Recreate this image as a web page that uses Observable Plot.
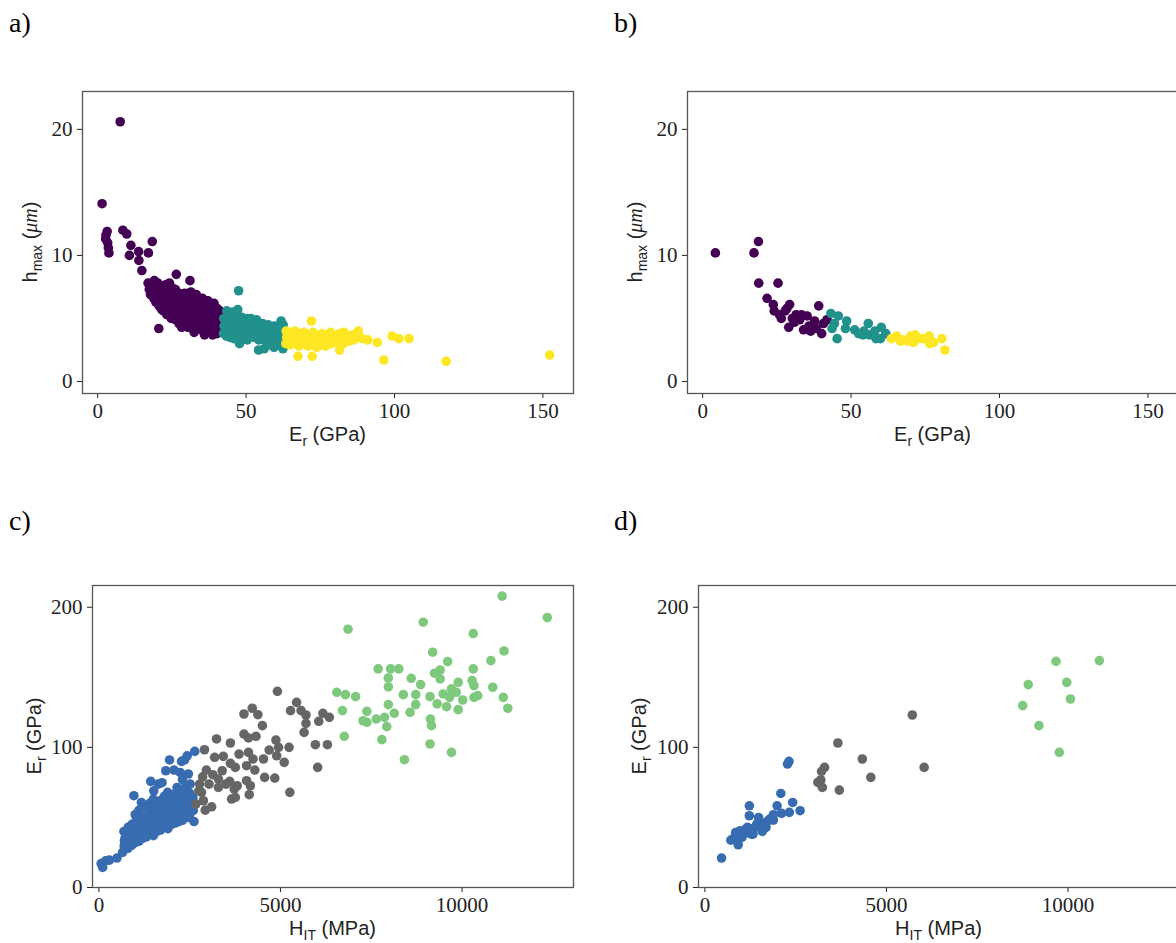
<!DOCTYPE html>
<html><head><meta charset="utf-8">
<script src="https://cdn.jsdelivr.net/npm/d3@7"></script>
<script src="https://cdn.jsdelivr.net/npm/@observablehq/plot@0.6"></script>
<style>
html,body{margin:0;padding:0;background:#fff;overflow:hidden;}
#root{position:relative;width:1176px;height:943px;overflow:hidden;background:#fff;}
#root svg{position:absolute;}
</style></head><body><div id="root"></div>
<script>
// ---------- Panel a: E_r (GPa) vs h_max (um), three k-means clusters ----------
const aCluster0 = [
[7.6,20.6],[1.5,14.1],[3.2,11.9],[2.8,11.6],[2.7,11.3],[3.4,11.0],[3.6,10.6],[3.8,10.2],[8.5,12.0],[9.8,11.7],[11.2,10.8],[10.7,10.0],[13.8,10.3],[13.9,9.6],[14.9,8.8],[18.4,11.1],[17.1,10.2],[20.6,4.2],
[17.0,7.8],[17.4,7.3],[17.8,6.9],[18.2,7.6],[18.5,7.1],[18.9,6.6],[19.1,8.0],[19.4,7.4],[19.8,6.8],[19.6,6.3],[20.3,7.8],[20.5,7.2],[20.1,6.5],[20.7,6.0],[21.2,7.6],[21.4,6.9],[21.0,6.3],[21.6,5.7],[22.3,7.4],[22.0,6.8],[22.5,6.2],[22.2,5.6],[23.1,7.7],[23.4,7.0],[23.0,6.4],[23.6,5.9],[23.3,5.3],[24.2,7.8],[24.4,7.2],[24.0,6.6],[24.6,6.0],[24.3,5.4],[24.8,5.0],[25.2,7.4],[25.5,6.9],[25.0,6.3],[25.7,5.7],[25.3,5.1],[26.5,8.5],[26.2,7.3],[26.6,6.7],[26.0,6.1],[26.8,5.5],[26.4,4.9],[27.3,7.0],[27.5,6.4],[27.1,5.8],[27.7,5.2],[27.4,4.6],[28.2,6.8],[28.5,6.2],[28.0,5.6],[28.7,5.0],[28.3,4.3],[29.3,7.0],[29.6,6.5],[29.1,5.9],[29.8,5.3],[29.4,4.7],[30.2,6.7],[30.5,6.1],[30.0,5.5],[30.7,4.9],[30.4,4.3],[31.1,8.0],[31.4,7.1],[31.0,6.3],[31.6,5.7],[31.3,5.1],[31.8,4.5],[32.4,6.6],[32.1,6.0],[32.7,5.4],[32.3,4.8],[32.5,3.9],[33.2,6.9],[33.5,6.2],[33.1,5.6],[33.7,5.0],[33.4,4.4],[34.3,6.4],[34.0,5.8],[34.6,5.2],[34.2,4.6],[34.8,4.1],[35.3,6.6],[35.6,6.0],[35.1,5.4],[35.7,4.8],[35.4,4.2],[36.3,6.2],[36.0,5.6],[36.6,5.0],[36.2,4.4],[36.0,3.7],[37.2,6.4],[37.5,5.8],[37.1,5.2],[37.7,4.6],[37.4,4.0],[38.3,6.0],[38.0,5.5],[38.6,4.9],[38.2,4.3],[38.7,3.7],[39.2,6.2],[39.5,5.6],[39.1,5.0],[39.7,4.4],[39.4,3.9],[40.2,5.8],[40.5,5.3],[40.0,4.7],[40.6,4.2],[40.2,3.8],[41.2,5.6],[41.5,5.0],[41.0,4.5],[41.6,4.0],[42.0,5.2],[42.2,4.7],[42.0,4.2]
];
const aCluster1 = [
[42.5,5.0],[42.6,4.4],[42.4,3.8],[43.5,5.6],[43.3,4.9],[43.7,4.2],[43.4,3.6],[44.5,5.4],[44.7,4.7],[44.3,4.1],[44.6,3.5],[45.5,5.5],[45.3,4.9],[45.7,4.3],[45.4,3.7],[45.9,3.4],[46.5,5.3],[46.7,4.6],[46.3,4.0],[46.6,3.5],[47.5,7.2],[47.2,5.7],[47.6,5.0],[47.4,4.3],[47.8,3.0],[48.5,5.1],[48.3,4.5],[48.7,3.9],[48.4,3.4],[49.5,4.9],[49.3,4.3],[49.7,3.7],[50.5,5.0],[50.3,4.4],[50.7,3.8],[50.4,3.3],[51.6,5.0],[51.3,4.2],[51.7,3.6],[52.5,4.7],[52.3,4.1],[52.7,3.5],[53.5,4.9],[53.3,4.3],[53.7,3.7],[54.2,2.5],[54.5,4.5],[54.7,3.9],[54.3,3.3],[55.5,4.6],[55.3,4.0],[55.7,3.4],[56.1,2.6],[56.5,4.4],[56.3,3.8],[56.7,3.2],[57.5,4.5],[57.3,3.9],[57.7,3.3],[57.4,2.9],[58.5,4.3],[58.3,3.7],[58.7,3.1],[59.5,4.4],[59.3,3.8],[59.7,3.2],[59.4,2.7],[60.5,4.2],[60.3,3.6],[60.7,3.0],[61.8,4.8],[61.5,4.1],[61.3,3.5],[61.7,2.9],[62.5,4.5],[62.3,3.8],[62.7,3.2],[62.4,2.6]
];
const aCluster2 = [
[63.5,4.0],[63.7,3.5],[63.4,3.0],[65.0,3.9],[65.2,3.4],[64.8,2.9],[66.5,4.0],[66.3,3.6],[66.7,3.1],[68.0,3.8],[68.2,3.3],[67.8,2.8],[67.5,2.0],[69.5,3.9],[69.3,3.4],[69.7,3.0],[71.0,3.7],[71.2,3.2],[70.8,2.8],[72.0,4.8],[72.3,2.0],[72.5,3.9],[72.7,3.4],[72.3,2.9],[74.0,3.6],[74.2,3.1],[73.8,2.7],[75.5,3.8],[75.3,3.3],[75.7,2.9],[77.0,3.7],[77.2,3.2],[76.8,2.8],[78.5,3.9],[78.3,3.4],[78.7,3.0],[80.0,3.6],[80.2,3.1],[81.5,3.8],[81.3,3.3],[81.5,2.5],[83.0,3.9],[83.2,3.4],[82.8,3.0],[84.5,3.6],[84.7,3.2],[86.0,3.7],[86.2,3.3],[87.8,4.0],[87.6,3.5],[89.0,3.4],[91.0,3.3],[94.2,3.1],[96.4,1.7],[99.2,3.6],[101.5,3.4],[104.9,3.4],[117.4,1.6],[152.3,2.1]
];

// ---------- Panel b: E_r (GPa) vs h_max (um), test subset ----------
const bCluster0 = [
[4.3,10.2],[17.3,10.2],[18.8,11.1],[18.9,7.8],[25.4,7.8],[21.7,6.6],[23.8,6.1],[24.1,5.6],[25.9,5.3],[27.8,5.6],[29.3,6.1],[28.4,5.8],[29.0,4.3],[30.2,5.0],[31.5,5.3],[32.7,4.9],[34.0,4.1],[35.2,5.2],[36.4,4.0],[37.7,4.8],[39.1,6.0],[40.1,3.8],[40.7,4.6],[41.9,4.9],[26.5,5.0],[30.9,4.7],[33.3,5.3],[38.3,4.2],[35.8,4.4]
];
const bCluster1 = [
[43.2,5.4],[45.7,5.2],[43.6,4.2],[45.3,3.4],[44.4,4.6],[48.5,4.8],[48.1,4.2],[51.2,4.1],[52.5,3.8],[54.3,4.0],[55.8,4.6],[56.2,3.7],[58.0,4.0],[60.2,4.3],[59.9,3.4],[61.7,3.8],[58.4,3.4],[54.0,3.7]
];
const bCluster2 = [
[63.6,3.4],[65.4,3.6],[67.3,3.3],[69.1,3.2],[70.0,3.6],[71.6,3.7],[73.2,3.4],[74.7,3.4],[76.3,3.6],[76.5,3.0],[77.8,3.1],[80.6,3.4],[81.6,2.5],[66.7,3.2],[71.0,3.1]
];

// ---------- Panel c: H_IT (MPa) vs E_r (GPa) ----------
const cCluster0 = [
[104,14.3],[62,17.1],[186,19.0],[290,19.5],[497,21.0],[652,25.0],[704,28.6],[704,33.3],[756,38.1],[859,41.7],[963,65.5],[1170,60.7],[1428,75.7],[1511,69.0],[1635,73.8],[1739,74.8],[1842,83.3],[1946,91.0],[2070,83.8],[2236,82.1],[2277,90.0],[2360,91.0],[2432,94.0],[2640,97.1],[2463,81.0],[1894,67.9],[2153,71.4],[2412,69.0],[2515,73.8],[2619,59.5],[2619,47.1],[2463,50.0],
[700,30],[720,35],[690,40],[800,28],[820,33],[790,38],[810,43],[900,30],[920,35],[890,40],[910,45],[1000,32],[1020,37],[990,42],[1010,47],[1000,52],[1100,33],[1120,38],[1090,43],[1110,48],[1100,55],[1200,35],[1220,40],[1190,45],[1210,50],[1200,57],[1300,36],[1320,41],[1290,46],[1310,51],[1300,58],[1400,38],[1420,43],[1390,48],[1410,53],[1400,60],[1500,37],[1520,42],[1490,47],[1510,52],[1500,57],[1500,63],[1600,40],[1620,45],[1590,50],[1610,55],[1600,61],[1700,41],[1720,46],[1690,51],[1710,56],[1700,62],[1800,43],[1820,48],[1790,53],[1810,58],[1800,65],[1900,42],[1920,47],[1890,52],[1910,57],[1900,63],[2000,45],[2020,50],[1990,55],[2010,60],[2000,66],[2100,46],[2120,51],[2090,56],[2110,61],[2100,67],[2200,47],[2220,52],[2190,57],[2210,62],[2200,68],[2300,48],[2320,53],[2290,58],[2310,63],[2300,70],[2300,77],[2400,50],[2420,55],[2390,60],[2410,65],[2400,72],[2500,52],[2520,57],[2490,62],[2510,67],[2600,55],[2620,60],[2590,64]
];
const cCluster1 = [
[4916,140.0],[5444,132.1],[5278,126.2],[5568,126.2],[4223,127.9],[3995,123.8],[4378,123.3],[5703,123.1],[6169,124.3],[6345,121.4],[6055,118.6],[5703,117.1],[4502,115.5],[5651,110.7],[3995,109.5],[4326,107.9],[4119,106.7],[3240,106.0],[3622,103.1],[4875,105.2],[5237,100.0],[4947,100.0],[5961,101.9],[6293,101.9],[2908,98.3],[3188,92.9],[3426,93.6],[3860,95.2],[4119,96.4],[4244,91.7],[4689,98.1],[4896,94.0],[5103,89.3],[6024,85.7],[3622,88.6],[3757,85.7],[4067,86.9],[4295,83.8],[2960,83.8],[3136,80.5],[3291,77.4],[4564,78.6],[4844,78.1],[4067,76.2],[4171,72.6],[3602,75.7],[3726,70.2],[4140,66.2],[3757,64.3],[3654,63.1],[5258,67.9],[2857,79.0],[2774,73.8],[2826,67.9],[2877,61.9],[2929,55.2],[3105,57.6],[2753,69.0],[3033,73.8],[3395,83.3],[3498,73.8],[3291,71.4],[2670,59.5],[3809,72.6],[4533,91.7]
];
const cCluster2 = [
[11106,207.9],[12348,192.6],[6862,184.3],[8932,189.3],[10309,181.2],[9191,167.9],[11157,168.8],[10795,161.9],[9605,161.2],[7690,156.0],[8032,156.0],[8259,156.0],[9398,155.2],[10309,156.0],[7970,149.5],[8601,149.3],[9242,152.9],[9398,148.8],[8860,144.8],[7970,143.1],[9895,146.4],[10278,147.6],[10330,144.0],[10846,142.9],[6552,139.3],[6790,137.6],[7069,136.2],[8383,137.6],[8725,137.6],[9118,136.2],[9481,138.1],[9709,141.7],[9843,139.3],[9657,135.7],[10019,133.8],[10330,135.7],[10433,136.9],[11137,135.7],[9315,131.0],[9574,129.0],[9895,126.9],[8725,130.5],[7970,130.5],[8570,125.0],[8135,124.3],[7380,125.7],[6707,126.2],[11261,127.9],[7276,119.0],[7380,117.9],[7638,120.2],[7866,121.4],[7928,114.8],[9129,120.2],[9160,115.5],[6758,107.9],[7793,105.5],[9119,102.4],[8414,91.2],[9709,96.4]
];

// ---------- Panel d: H_IT (MPa) vs E_r (GPa), test subset ----------
const dCluster0 = [
[459,21.0],[714,33.8],[847,39.3],[918,30.5],[1020,35.7],[1122,41.7],[1224,58.3],[1224,51.2],[1275,38.1],[1377,42.9],[1479,50.0],[1581,40.0],[1632,45.2],[1530,46.4],[1734,47.6],[1887,48.1],[1887,51.9],[1989,58.3],[2091,67.1],[2111,52.9],[2275,88.1],[2315,90.0],[2326,53.6],[2417,60.7],[2621,54.8],[1173,42.9],[1326,38.1],[1071,38.1],[1428,45.2],[1683,42.9],[1785,48.8],[969,40.5],[816,35.7]
];
const dCluster1 = [
[5712,123.1],[3662,103.1],[4335,91.7],[6038,85.7],[3295,85.7],[3213,82.9],[4570,78.6],[3111,75.0],[3193,76.7],[3233,71.4],[3703,69.5]
];
const dCluster2 = [
[9670,161.4],[10863,161.9],[8905,144.8],[9965,146.4],[8752,129.8],[10067,134.5],[9200,115.5],[9761,96.4]
];

const viridisColors = ["#440154", "#21918c", "#fde725"];
const accentColors = ["#386cb0", "#666666", "#7fc97f"];
const hTicks = [0, 10, 20];
const erTicksA = [0, 50, 100, 150];
const hitTicks = [0, 5000, 10000];
const erTicksC = [0, 100, 200];
const panelLabels = ["a)", "b)", "c)", "d)"];

const root = document.getElementById("root");
const serif = '"Liberation Serif", "Times New Roman", serif';
const sans = '"Liberation Sans", Arial, sans-serif';

// panel labels
const over = d3.select(root).append("svg").attr("width", 1176).attr("height", 943).style("left","0px").style("top","0px");
[[9,32],[614,32],[9,530],[614,530]].forEach((p,i)=>{
  over.append("text").attr("x",p[0]).attr("y",p[1]).attr("font-family",serif).attr("font-size",28).attr("fill","#000").text(panelLabels[i]);
});

function addLabel(sel, x, y, parts, rotate) {
  const t = sel.append("text").attr("text-anchor","middle").attr("fill","#222")
    .attr("font-family", sans).attr("font-size", 20);
  if (rotate) t.attr("transform", `translate(${x},${y}) rotate(-90)`);
  else t.attr("x", x).attr("y", y);
  let shift = 0;
  parts.forEach(p => {
    const ts = t.append("tspan").text(p.t);
    const want = p.sub ? 5 : 0;
    if (want !== shift) { ts.attr("dy", want - shift); shift = want; }
    if (p.sub) ts.attr("font-size", 14);
    if (p.serif) ts.attr("font-family", serif);
    if (p.italic) ts.attr("font-style", "italic");
  });
}

function panel(o) {
  const mL = 80, mT = 10, mR = 10, mB = 60;
  const marks = o.clusters.map((c, i) =>
    Plot.dot(c, {x: d => d[0], y: d => d[1], r: 4.8, fill: o.colors[i]}));
  marks.push(Plot.frame({stroke: "#555555", strokeWidth: 1.3}));
  const svg = Plot.plot({
    width: o.fw + mL + mR, height: o.fh + mT + mB,
    marginLeft: mL, marginTop: mT, marginRight: mR, marginBottom: mB,
    style: {fontFamily: serif, fontSize: "21px", color: "#222", background: "transparent", overflow: "visible"},
    x: {domain: o.xDomain, ticks: o.xTicks, tickSize: 5, tickPadding: 5, tickFormat: d => String(d), label: null},
    y: {domain: o.yDomain, ticks: o.yTicks, tickSize: 5, tickPadding: 5, tickFormat: d => String(d), label: null},
    marks
  });
  const left = o.fl - mL, top = o.ft - mT;
  svg.style.left = left + "px";
  svg.style.top = top + "px";
  root.appendChild(svg);
  const s = d3.select(svg);
  addLabel(s, mL + o.fw / 2, mT + o.fh + 48, o.xLabel, false);
  addLabel(s, o.yLabelX - left, mT + o.fh / 2, o.yLabel, true);
}

const erLabel = [{t:"E"},{t:"r",sub:true},{t:" (GPa)"}];
const hLabel = [{t:"h"},{t:"max",sub:true},{t:" ("},{t:"μm",serif:true,italic:true},{t:")"}];
const hitLabel = [{t:"H"},{t:"IT",sub:true},{t:" (MPa)"}];

const domA = [-5.1, 160.3], domH = [-0.95, 23.0];
const domHIT = [-176, 13070], domE = [0, 215.5];

panel({clusters:[aCluster0,aCluster1,aCluster2], colors: viridisColors, xDomain: domA, yDomain: domH,
  xTicks: erTicksA, yTicks: hTicks, fl: 82, ft: 91, fw: 491, fh: 302, xLabel: erLabel, yLabel: hLabel, yLabelX: 37});
panel({clusters:[bCluster0,bCluster1,bCluster2], colors: viridisColors, xDomain: domA, yDomain: domH,
  xTicks: erTicksA, yTicks: hTicks, fl: 687, ft: 91, fw: 491, fh: 302, xLabel: erLabel, yLabel: hLabel, yLabelX: 642});
panel({clusters:[cCluster0,cCluster1,cCluster2], colors: accentColors, xDomain: domHIT, yDomain: domE,
  xTicks: hitTicks, yTicks: erTicksC, fl: 92, ft: 585, fw: 481, fh: 302, xLabel: hitLabel, yLabel: erLabel, yLabelX: 41});
panel({clusters:[dCluster0,dCluster1,dCluster2], colors: accentColors, xDomain: domHIT, yDomain: domE,
  xTicks: hitTicks, yTicks: erTicksC, fl: 698, ft: 585, fw: 481, fh: 302, xLabel: hitLabel, yLabel: erLabel, yLabelX: 646});
</script></body></html>
